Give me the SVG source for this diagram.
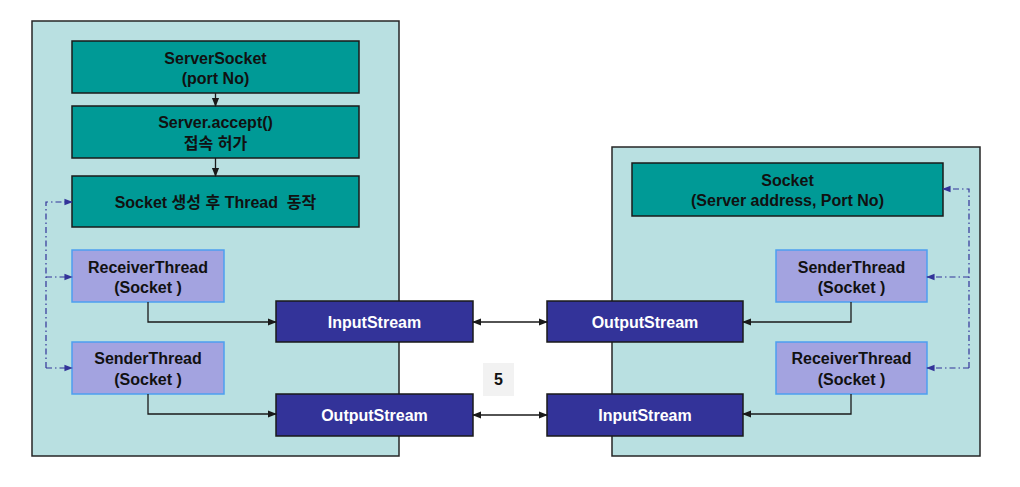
<svg xmlns="http://www.w3.org/2000/svg" width="1020" height="487" viewBox="0 0 1020 487">
<defs>
<style>
.panel{fill:#b9e0e1;stroke:#262626;stroke-width:1.5}
.teal{fill:#009a96;stroke:#1a1a1a;stroke-width:1.5}
.lav{fill:#a3a3e0;stroke:#4d9ff0;stroke-width:1.5}
.navy{fill:#333399;stroke:#1a1a1a;stroke-width:1.5}
.t{font-family:"Liberation Sans","Noto Sans CJK KR",sans-serif;font-weight:bold;font-size:16px;text-anchor:middle;dominant-baseline:central;fill:#111}
.w{fill:#fff}
.ln{fill:none;stroke:#1a1a1a;stroke-width:1.3}
.dd{fill:none;stroke:#333399;stroke-width:1.2;stroke-dasharray:6 3 1.5 3}
</style>
<marker id="ah" viewBox="0 0 10 10" refX="9" refY="5" markerWidth="7" markerHeight="7" orient="auto-start-reverse"><path d="M0,1 L10,5 L0,9 z" fill="#1a1a1a"/></marker>
<marker id="bh" viewBox="0 0 10 10" refX="9" refY="5" markerWidth="7" markerHeight="7" orient="auto"><path d="M0,1 L10,5 L0,9 z" fill="#333399"/></marker>
</defs>
<rect width="1020" height="487" fill="#fff"/>
<rect class="panel" x="32" y="21" width="367" height="435"/>
<rect class="panel" x="612" y="147" width="368" height="309"/>

<g id="serversocket"><rect class="teal" x="72" y="41" width="287" height="52"/><text class="t" x="215.5" y="58">ServerSocket</text><text class="t" x="215.5" y="78">(port No)</text></g>
<g id="accept"><rect class="teal" x="72" y="106" width="287" height="52"/><text class="t" x="215.5" y="122">Server.accept()</text><text class="t" x="215.5" y="143">접속 허가</text></g>
<g id="socketthread"><rect class="teal" x="72" y="176" width="287" height="51"/><text class="t" x="215.5" y="202" xml:space="preserve">Socket 생성 후 Thread  동작</text></g>
<g id="recvL"><rect class="lav" x="72" y="250" width="152" height="52"/><text class="t" x="148" y="267">ReceiverThread</text><text class="t" x="148" y="287">(Socket )</text></g>
<g id="sendL"><rect class="lav" x="72" y="342" width="152" height="52"/><text class="t" x="148" y="358">SenderThread</text><text class="t" x="148" y="379">(Socket )</text></g>
<g id="inL"><rect class="navy" x="276" y="301" width="197" height="41"/><text class="t w" x="374.5" y="322">InputStream</text></g>
<g id="outL"><rect class="navy" x="276" y="394" width="197" height="42"/><text class="t w" x="374.5" y="415">OutputStream</text></g>

<g id="socketR"><rect class="teal" x="632" y="163" width="311" height="53"/><text class="t" x="787.5" y="180">Socket</text><text class="t" x="787.5" y="200">(Server address, Port No)</text></g>
<g id="sendR"><rect class="lav" x="776" y="250" width="151" height="52"/><text class="t" x="851.5" y="267">SenderThread</text><text class="t" x="851.5" y="287">(Socket )</text></g>
<g id="recvR"><rect class="lav" x="776" y="342" width="151" height="52"/><text class="t" x="851.5" y="358">ReceiverThread</text><text class="t" x="851.5" y="379">(Socket )</text></g>
<g id="outR"><rect class="navy" x="547" y="301" width="196" height="41"/><text class="t w" x="645" y="322">OutputStream</text></g>
<g id="inR"><rect class="navy" x="547" y="394" width="196" height="42"/><text class="t w" x="645" y="415">InputStream</text></g>

<g id="label5"><rect x="483" y="363" width="31" height="33" fill="#f2f2f2"/><text class="t" x="498.5" y="379.5">5</text></g>

<g id="connectors">
<path class="ln" d="M215.5,93 V106" marker-end="url(#ah)"/>
<path class="ln" d="M215.5,158 V176" marker-end="url(#ah)"/>
<path class="ln" d="M148,302 V322 H276" marker-end="url(#ah)"/>
<path class="ln" d="M148,394 V414 H276" marker-end="url(#ah)"/>
<path class="ln" d="M851,302 V322 H743" marker-end="url(#ah)"/>
<path class="ln" d="M851,394 V414 H743" marker-end="url(#ah)"/>
<path class="ln" d="M473,322 H547" marker-start="url(#ah)" marker-end="url(#ah)"/>
<path class="ln" d="M473,415 H547" marker-start="url(#ah)" marker-end="url(#ah)"/>
<path class="dd" d="M46,368 V202 H72" marker-end="url(#bh)"/>
<path class="dd" d="M46,277 H72" marker-end="url(#bh)"/>
<path class="dd" d="M46,368 H72" marker-end="url(#bh)"/>
<path class="dd" d="M969,368 V189 H943" marker-end="url(#bh)"/>
<path class="dd" d="M969,277 H927" marker-end="url(#bh)"/>
<path class="dd" d="M969,368 H927" marker-end="url(#bh)"/>
</g>
</svg>
